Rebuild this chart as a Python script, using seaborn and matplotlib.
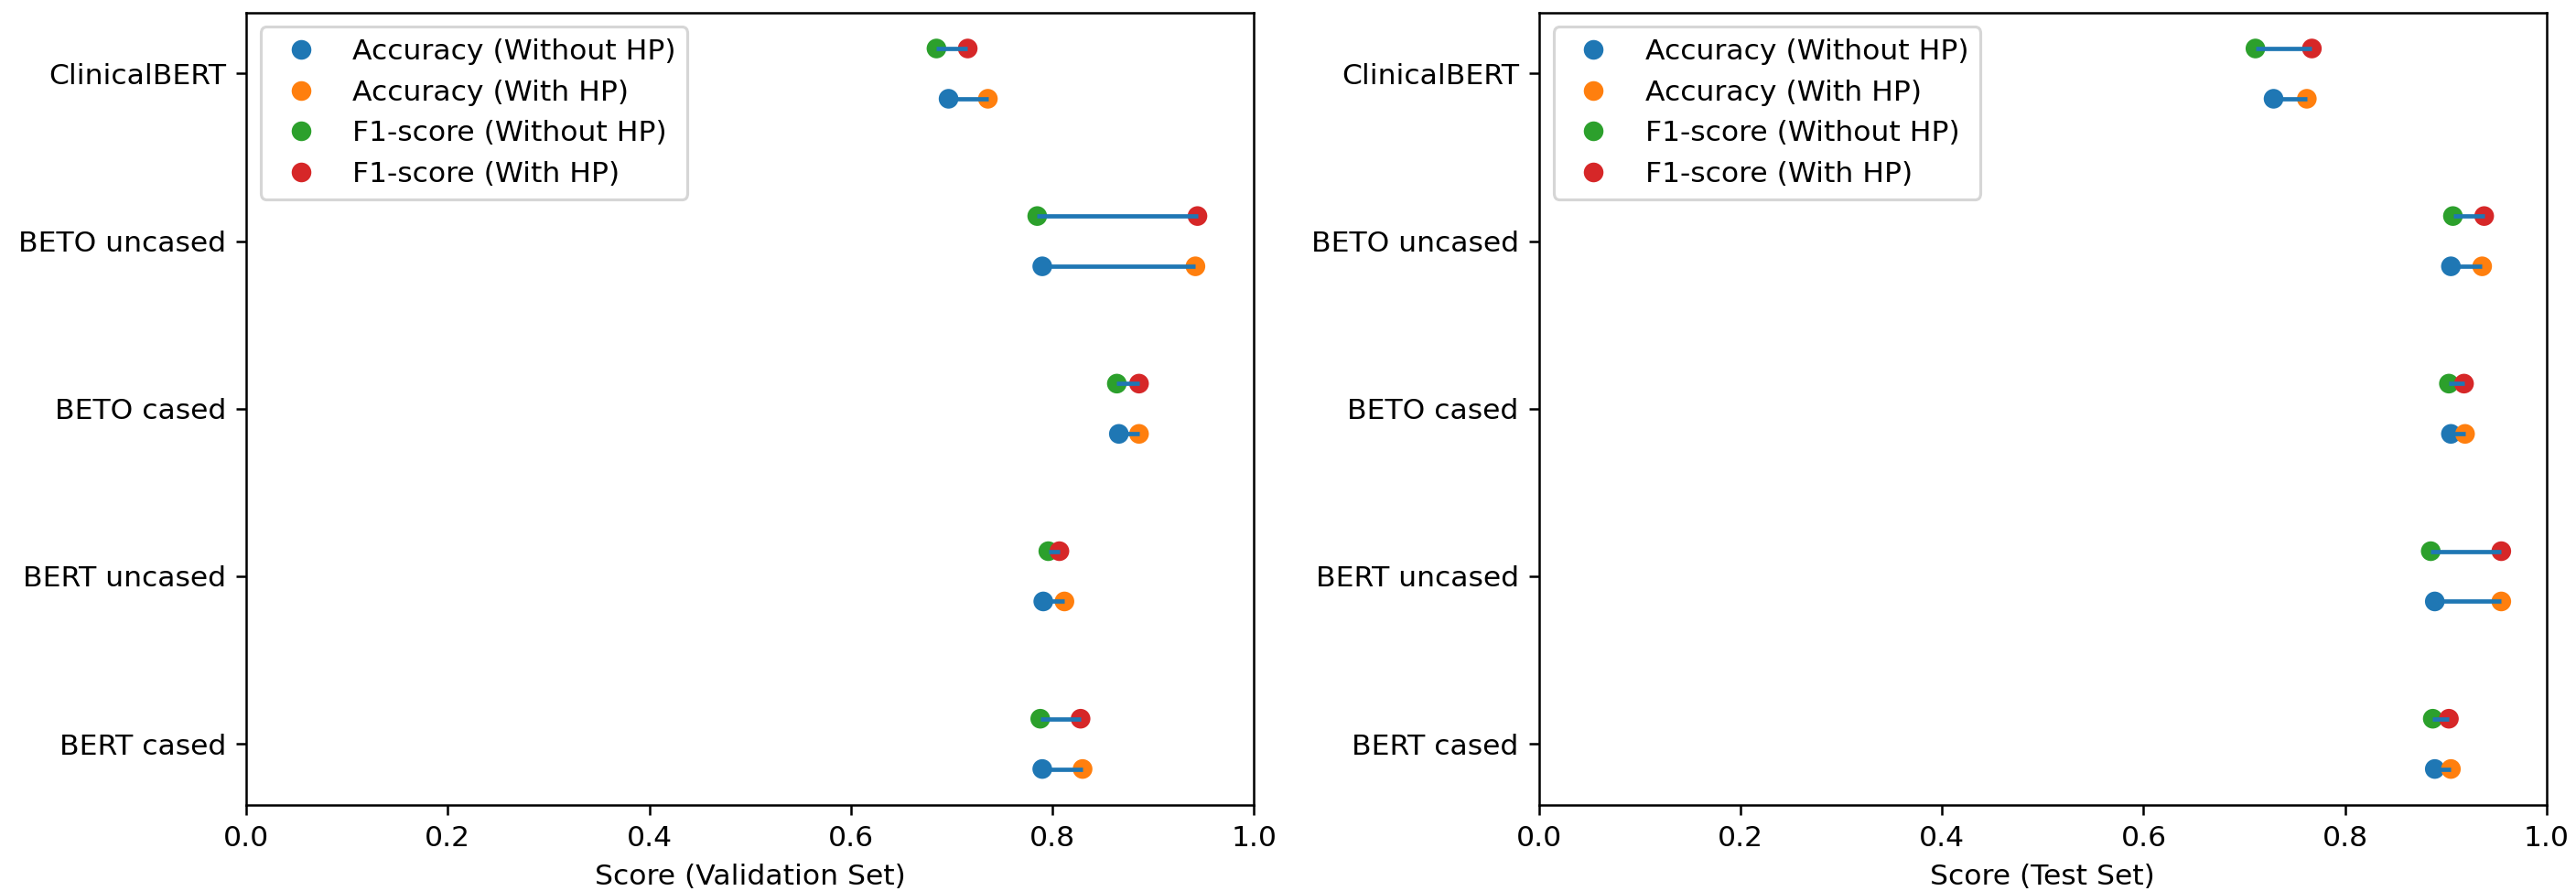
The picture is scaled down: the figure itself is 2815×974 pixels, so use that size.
import matplotlib
matplotlib.use('Agg')
import matplotlib.pyplot as plt
import numpy as np
import pandas as pd
import seaborn as sns

models = ['BERT cased', 'BERT uncased', 'BETO cased', 'BETO uncased', 'ClinicalBERT']

# validation set
val_acc_without = [0.790, 0.791, 0.866, 0.790, 0.697]
val_acc_with = [0.830, 0.812, 0.886, 0.942, 0.736]
val_f1_without = [0.788, 0.796, 0.864, 0.785, 0.685]
val_f1_with = [0.828, 0.807, 0.886, 0.944, 0.716]

# test set
test_acc_without = [0.889, 0.889, 0.905, 0.905, 0.729]
test_acc_with = [0.905, 0.955, 0.919, 0.936, 0.762]
test_f1_without = [0.887, 0.885, 0.903, 0.907, 0.711]
test_f1_with = [0.903, 0.955, 0.918, 0.938, 0.767]

labels = ['Accuracy (Without HP)', 'Accuracy (With HP)', 'F1-score (Without HP)', 'F1-score (With HP)']
colors = sns.color_palette('tab10', 4)
off = 0.15


def make_df(acc_wo, acc_w, f1_wo, f1_w):
    rows = []
    for i, m in enumerate(models):
        rows.append((m, i - off, acc_wo[i], labels[0]))
        rows.append((m, i - off, acc_w[i], labels[1]))
        rows.append((m, i + off, f1_wo[i], labels[2]))
        rows.append((m, i + off, f1_w[i], labels[3]))
    return pd.DataFrame(rows, columns=['model', 'y', 'score', 'metric'])


def draw(ax, df, xlabel):
    sns.scatterplot(data=df, x='score', y='y', hue='metric', hue_order=labels,
                    palette=colors, s=47, linewidth=0, ax=ax)
    for i in range(len(models)):
        sub = df[df['model'] == models[i]]
        acc = sub[sub['metric'].str.startswith('Accuracy')]
        f1 = sub[sub['metric'].str.startswith('F1')]
        ax.hlines(i - off, acc['score'].iloc[0], acc['score'].iloc[1], color=colors[0], linewidth=1.5)
        ax.hlines(i + off, f1['score'].iloc[0], f1['score'].iloc[1], color=colors[0], linewidth=1.5)
    ax.set_yticks(range(len(models)))
    ax.set_yticklabels(models)
    ax.set_xlim(0, 1)
    ax.set_xlabel(xlabel)
    ax.set_ylabel('')
    handles, lbls = ax.get_legend_handles_labels()
    ax.legend(handles, lbls, loc='upper left')


plt.rcParams['font.family'] = ['DejaVu Sans']
dpi = 226
fig, axes = plt.subplots(1, 2, figsize=(2815 / dpi, 974 / dpi), dpi=dpi)
fig.subplots_adjust(left=0.0956, right=0.9886, top=0.986, bottom=0.0965, wspace=0.283)

draw(axes[0], make_df(val_acc_without, val_acc_with, val_f1_without, val_f1_with), 'Score (Validation Set)')
draw(axes[1], make_df(test_acc_without, test_acc_with, test_f1_without, test_f1_with), 'Score (Test Set)')

plt.savefig('out.png', dpi=dpi)
plt.close()
